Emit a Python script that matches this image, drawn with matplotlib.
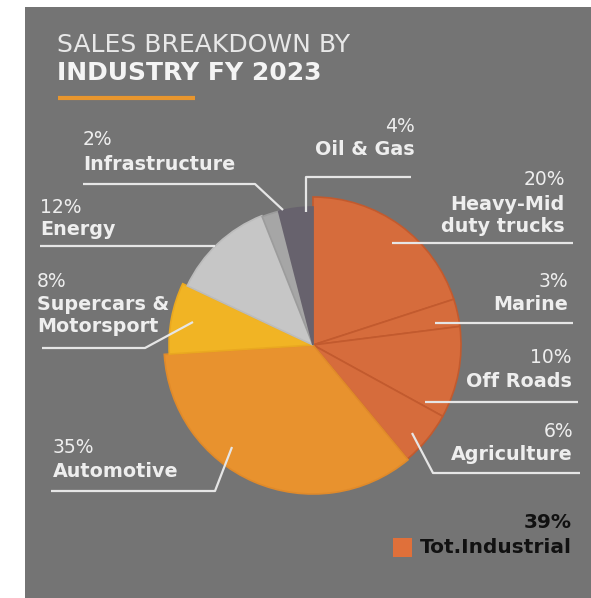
import matplotlib
matplotlib.use("Agg")
import matplotlib.pyplot as plt
from matplotlib.patches import Rectangle

# ---- data ----
categories = ["Heavy-Mid\nduty trucks", "Marine", "Off Roads", "Agriculture",
              "Automotive", "Supercars &\nMotorsport", "Energy", "Infrastructure", "Oil & Gas"]
values = [20, 3, 10, 6, 35, 8, 12, 2, 4]
pct_labels = ["20%", "3%", "10%", "6%", "35%", "8%", "12%", "2%", "4%"]
colors = ["#d66c3c", "#d66c3c", "#d66c3c", "#d66c3c",
          "#e8922e", "#f1b424", "#c6c6c6", "#a6a6a6", "#67626d"]
edge_colors = ["#c25a2e", "#c25a2e", "#c25a2e", "#c25a2e",
               "#e08a2a", "#eaa820", "#bcbcbc", "#9c9c9c", "#67626d"]
radii = [148, 148, 148, 148, 149, 144, 139, 138, 138]
legend_label = "Tot.Industrial"
legend_pct = "39%"
title_line1 = "SALES BREAKDOWN BY"
title_line2 = "INDUSTRY FY 2023"

BG = "#747474"
TXT = "#eeeeee"
LINE = "#e6e6e6"

fig = plt.figure(figsize=(5.91, 5.98), dpi=100, facecolor="white")
ax = fig.add_axes([0, 0, 1, 1])
ax.set_facecolor("white")

# panel
ax.add_patch(Rectangle((25, 7), 570, 595, facecolor=BG, edgecolor="none", zorder=0))

# pie (y axis inverted -> counterclock in data is clockwise on screen)
cx, cy = 313, 345
wedges, _ = ax.pie(values, colors=colors, startangle=-90, counterclock=True,
                   radius=148, center=(cx, cy), frame=True,
                   wedgeprops=dict(linewidth=1.2))
for w, ec, r in zip(wedges, edge_colors, radii):
    w.set_edgecolor(ec)
    w.set_radius(r)
    w.set_zorder(2)

ax.set_xlim(0, 591)
ax.set_ylim(598, 0)
ax.set_aspect("auto")
ax.axis("off")

# title
ax.text(57, 52, title_line1, fontsize=18, color="#e8e8e8", va="baseline", ha="left")
ax.text(57, 80, title_line2, fontsize=18, color="#f4f4f4", fontweight="bold",
        va="baseline", ha="left")
ax.plot([58, 195], [98, 98], color="#e8962e", lw=3, solid_capstyle="butt")

FS_P = 13.5
FS_N = 13.8

def label(x, y_pct, y_name, pct, name, ha):
    ax.text(x, y_pct, pct, fontsize=FS_P, color=TXT, ha=ha, va="baseline", zorder=5)
    lines = name.split("\n")
    for i, ln in enumerate(lines):
        ax.text(x, y_name + i * 22, ln, fontsize=FS_N, color=TXT, fontweight="bold",
                ha=ha, va="baseline", zorder=5)

def leader(xs, ys):
    ax.plot(xs, ys, color=LINE, lw=1.6, zorder=4, solid_capstyle="butt")

# Right side
label(565, 185, 210, pct_labels[0], categories[0], "right")
leader([392, 573], [243, 243])
label(568, 287, 310, pct_labels[1], categories[1], "right")
leader([435, 573], [323, 323])
label(572, 363, 387, pct_labels[2], categories[2], "right")
leader([425, 578], [402, 402])
label(573, 437, 460, pct_labels[3], categories[3], "right")
leader([412, 433, 580], [433, 473, 473])
# Oil & Gas
label(415, 132, 155, pct_labels[8], categories[8], "right")
leader([306, 306, 411], [212, 177, 177])

# Left side
label(83, 145, 170, pct_labels[7], categories[7], "left")
leader([83, 255, 283], [184, 184, 210])
label(40, 213, 235, pct_labels[6], categories[6], "left")
leader([40, 215], [246, 246])
label(37, 287, 310, pct_labels[5], categories[5], "left")
leader([42, 145, 193], [348, 348, 322])
label(53, 453, 477, pct_labels[4], categories[4], "left")
leader([51, 215, 232], [491, 491, 447])

# legend
ax.add_patch(Rectangle((393, 538), 19, 19, facecolor="#e0703a", edgecolor="none", zorder=5))
ax.text(572, 528, legend_pct, fontsize=14.5, color="#111111", fontweight="bold",
        ha="right", va="baseline")
ax.text(572, 553, legend_label, fontsize=14.5, color="#111111", fontweight="bold",
        ha="right", va="baseline")

fig.savefig("out.png", dpi=100, facecolor="white")
